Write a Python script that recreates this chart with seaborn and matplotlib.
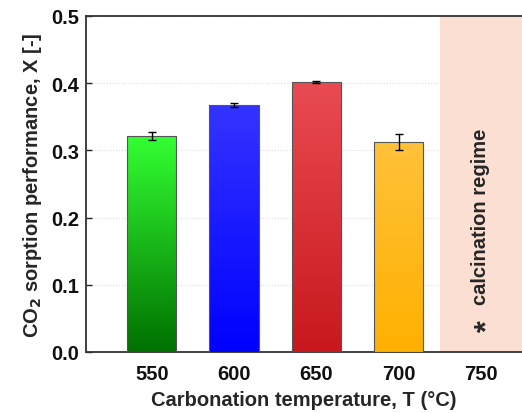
import numpy as np
import pandas as pd
import matplotlib
matplotlib.use("Agg")
import matplotlib.pyplot as plt
import seaborn as sns
from matplotlib.colors import LinearSegmentedColormap

temps = ["550", "600", "650", "700", "750"]
values = [0.321, 0.368, 0.402, 0.312, 0.0]
errors = [0.006, 0.003, 0.002, 0.012, 0.0]
top_colors = ["#33ff33", "#3434ff", "#ea4b52", "#ffc23a", "#ffffff"]
bottom_colors = ["#007000", "#0000ff", "#c8181d", "#ffb000", "#ffffff"]

sns.set_theme(style="white")
plt.rcParams['font.family'] = ['Liberation Sans', 'DejaVu Sans']

df = pd.DataFrame({"T": temps, "X": values})

FS = 14.5

fig = plt.figure(figsize=(5.22, 4.14), dpi=100)
ax = fig.add_axes([86/522, 61/414, (522-86)/522, (353-17)/414])

sns.barplot(data=df, x="T", y="X", ax=ax, color="white", width=0.6,
            edgecolor="#555555", linewidth=0.8, errorbar=None, zorder=3)

ax.set_xlim(-0.8, 4.5)
ax.set_ylim(0, 0.5)

# gradients
for i, p in enumerate(ax.patches[:4]):
    x0, y0 = p.get_x(), p.get_y()
    w, h = p.get_width(), p.get_height()
    cmap = LinearSegmentedColormap.from_list("g", [bottom_colors[i], top_colors[i]])
    grad = np.linspace(0, 1, 256).reshape(-1, 1)
    im = ax.imshow(grad, cmap=cmap, aspect="auto", origin="lower",
                   extent=[x0, x0 + w, y0, y0 + h], zorder=3.5)
    im.set_clip_path(p)
    p.set_zorder(4)
    p.set_facecolor("none")

ax.errorbar(range(4), values[:4], yerr=errors[:4], fmt="none", ecolor="black",
            elinewidth=1.0, capsize=3, capthick=1.0, zorder=5)

# calcination regime band
ax.axvspan(3.5, 4.5, color="#fcdfd3", zorder=1, lw=0)
ax.text(4.0, 0.072, "calcination regime", rotation=90, ha="center", va="bottom",
        fontsize=FS, fontweight="bold", zorder=6)
ax.text(4.09, 0.04, "*", rotation=90, ha="center", va="center",
        fontsize=22, fontweight="bold", zorder=6)

ax.set_yticks([0, 0.1, 0.2, 0.3, 0.4, 0.5])
ax.set_yticklabels(["0.0", "0.1", "0.2", "0.3", "0.4", "0.5"])
ax.yaxis.grid(True, color="#dddddd", linestyle=":", linewidth=0.8, zorder=0)
ax.set_axisbelow(True)

for lab in ax.get_xticklabels() + ax.get_yticklabels():
    lab.set_fontweight("bold")
    lab.set_fontsize(FS)
    lab.set_color("#111111")

ax.tick_params(axis="y", direction="in", length=4, width=1, left=True, pad=5)
ax.tick_params(axis="x", length=0, pad=9)

ax.set_xlabel("Carbonation temperature, T (°C)", fontsize=FS, fontweight="bold", labelpad=5)
ax.set_ylabel("CO$_\\mathbf{2}$ sorption performance, X [-]", fontsize=FS,
              fontweight="bold", labelpad=5)

for s in ["left", "bottom", "top"]:
    ax.spines[s].set_color("#333333")
    ax.spines[s].set_linewidth(1.3)
ax.spines["right"].set_visible(False)

fig.savefig("out.png", dpi=100)
